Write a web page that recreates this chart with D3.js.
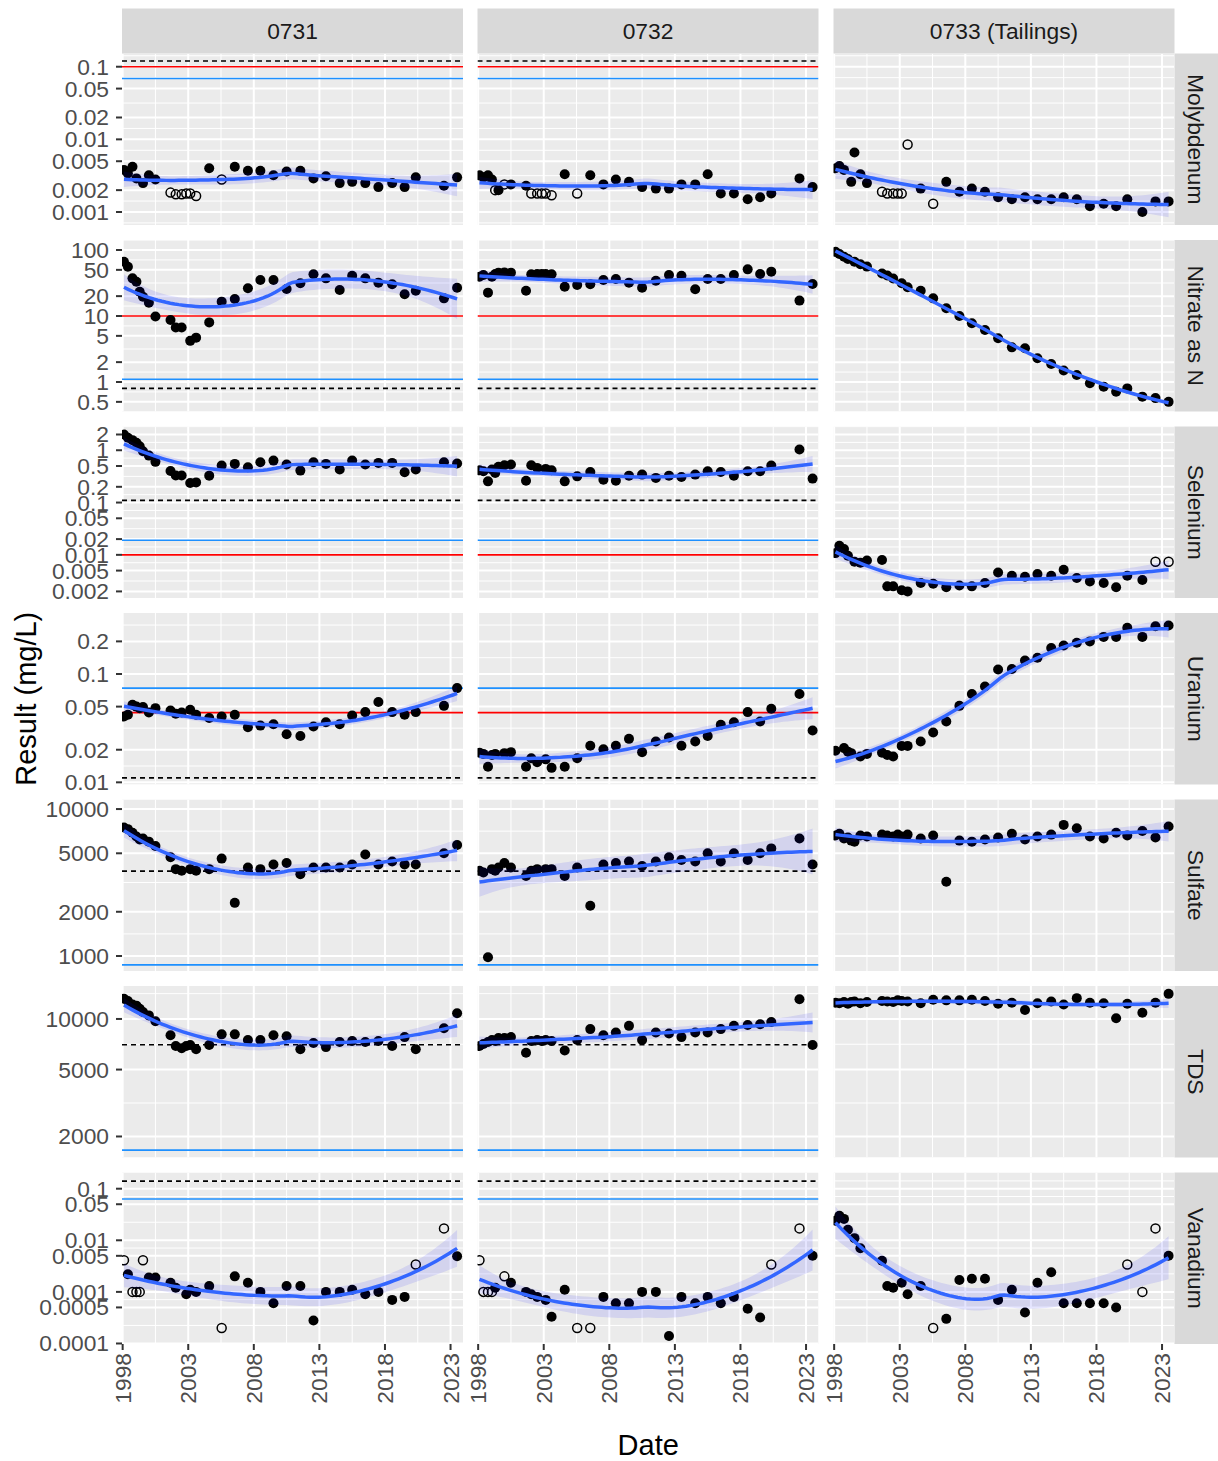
<!DOCTYPE html>
<html>
<head>
<meta charset="utf-8">
<title>Results by site and analyte</title>
<script src="https://cdn.jsdelivr.net/npm/d3@7"></script>
<style>
  body { margin: 0; background: #fff; }
  svg text { font-family: "Liberation Sans", Arial, Helvetica, sans-serif; }
</style>
</head>
<body>
<script>
// ---- data ---------------------------------------------------------------
var sites = ["0731", "0732", "0733 (Tailings)"];
var analytes = ["Molybdenum", "Nitrate as N", "Selenium", "Uranium", "Sulfate", "TDS", "Vanadium"];

// sampling events (decimal year); "<x" = not detected at x
var sampleYears = [1998.1, 1998.4, 1998.75, 1999.05, 1999.3, 1999.55, 2000.0, 2000.5, 2001.65, 2002.05,
  2002.5, 2002.85, 2003.15, 2003.6, 2004.6, 2005.55, 2006.55, 2007.55, 2008.5, 2009.5, 2010.5, 2011.55,
  2012.55, 2013.5, 2014.55, 2015.5, 2016.5, 2017.5, 2018.55, 2019.5, 2020.35, 2021.5, 2022.5, 2023.5];

var mo0731 = [0.0038, 0.0034, 0.0042, 0.0029, null, 0.0025, 0.0032, 0.0028, "<0.00185", "<0.00175", "<0.00175", "<0.0018", "<0.0018", "<0.00166", 0.0040, "<0.0028", 0.0042, 0.0037, 0.0037, 0.0032, 0.0036, 0.0037, 0.0029, 0.0031, 0.0025, 0.0026, 0.0025, 0.0022, 0.0025, 0.0022, 0.0030, null, 0.0023, 0.0030];
var mo0732 = [0.0032, 0.0030, 0.0032, 0.0028, "<0.002", 0.0020, "<0.0024", 0.0024, 0.0023, "<0.0018", "<0.0018", "<0.0018", "<0.0018", "<0.0017", 0.0033, "<0.0018", 0.0032, 0.0024, 0.0028, 0.0026, 0.0022, 0.0021, 0.0021, 0.0024, 0.0024, 0.0033, 0.0018, 0.0018, 0.0015, 0.0016, 0.0018, null, 0.0029, 0.0022];
var mo0733 = [0.0040, 0.0043, 0.0038, null, 0.0026, 0.0066, 0.0033, 0.0025, "<0.0019", "<0.0018", "<0.0018", "<0.0018", "<0.0018", "<0.0085", 0.0021, "<0.0013", 0.0026, 0.0019, 0.0021, 0.0019, 0.0016, 0.0015, 0.0016, 0.0015, 0.0015, 0.0016, 0.0015, 0.0012, 0.0013, 0.0012, 0.0015, 0.0010, 0.0014, 0.0014];

var no0731 = [66.5, 55.8, 37.2, 33.1, 23.3, 19.6, 15.9, 9.8, 8.7, 6.7, 6.7, null, 4.2, 4.7, 8.0, 16.5, 18.1, 26.3, 35.1, 35.1, 25.6, 31.3, 42.8, 37.2, 24.8, 40.8, 37.2, 32, 30.2, 21.3, 24.2, null, 18.5, 26.8];
var no0732 = [39.4, 41.8, 22.6, 39.4, 43.3, 45.4, 45.8, 45.4, 24.2, 42.8, 43.3, 43.3, 43.3, 42.8, 27.8, 29.5, 30.2, 35.1, 36.4, 32, 26.8, 34.3, 41.8, 40.8, 25.4, 36.4, 36.4, 41.8, 50.9, 43.3, 47, null, 17.1, 30.5];
var no0733 = [94, 87, 79, 73, null, 66.5, 61, 56, 44, 41, 37, null, 31.3, 27.2, 24.2, 18.5, 13.1, 10, 7.75, 6.14, 4.59, 3.35, 3.24, 2.29, 1.87, 1.49, 1.28, 0.955, 0.85, 0.71, 0.80, 0.60, 0.57, 0.50];

var se0731 = [2.0, 1.73, 1.56, 1.39, 1.19, 0.96, 0.79, 0.60, 0.40, 0.33, 0.33, null, 0.237, 0.243, 0.327, 0.509, 0.548, 0.472, 0.589, 0.634, 0.532, 0.408, 0.589, 0.548, 0.427, 0.634, 0.532, 0.573, 0.573, 0.379, 0.427, null, 0.589, 0.556];
var se0732 = [0.414, 0.396, 0.254, 0.427, 0.369, 0.481, 0.516, 0.532, 0.262, 0.516, 0.46, null, 0.44, 0.414, 0.254, 0.317, 0.385, 0.274, 0.262, 0.327, 0.342, 0.296, 0.327, 0.309, 0.342, 0.396, 0.385, 0.327, 0.396, 0.396, 0.509, null, 1.03, 0.287];
var se0733 = [0.0108, 0.0149, 0.0129, 0.0096, null, 0.0074, 0.0071, 0.0078, 0.0080, 0.0025, 0.0025, null, 0.0021, 0.0020, 0.0029, 0.0028, 0.0024, 0.0026, 0.0025, 0.0029, 0.0046, 0.0040, 0.0038, 0.0043, 0.0040, 0.0052, 0.0036, 0.0031, 0.0029, 0.0024, 0.0040, 0.0033, "<0.0074", "<0.0074"];

var u0731 = [0.0405, 0.042, 0.052, 0.050, 0.0484, 0.0495, 0.0441, 0.0484, 0.046, 0.0429, 0.0441, null, 0.0467, 0.042, 0.0392, 0.0405, 0.042, 0.0323, 0.0334, 0.0344, 0.0278, 0.0268, 0.0327, 0.0359, 0.0344, 0.0414, 0.0445, 0.0551, 0.0445, 0.042, 0.0445, null, 0.0508, 0.0741];
var u0732 = [0.0188, 0.0183, 0.0139, 0.0179, 0.0183, null, 0.0186, 0.019, 0.0139, 0.0167, 0.0153, null, 0.0163, 0.0136, 0.0139, 0.0167, 0.0218, 0.0202, 0.0218, 0.0252, 0.019, 0.0238, 0.0259, 0.0218, 0.0238, 0.0268, 0.034, 0.0359, 0.0445, 0.0364, 0.0478, null, 0.0653, 0.0301];
var u0733 = [0.0196, null, 0.0207, 0.0192, 0.0186, null, 0.0173, 0.0183, 0.0188, 0.0179, 0.0173, null, 0.0217, 0.0217, 0.0238, 0.0288, 0.0364, 0.0508, 0.0653, 0.0767, 0.110, 0.111, 0.133, 0.141, 0.174, 0.183, 0.194, 0.200, 0.220, 0.220, 0.267, 0.220, 0.276, 0.280];

var so0731 = [7500, 7300, 6900, 6500, 6200, 6300, 6000, 5600, 4700, 3900, 3800, null, 3900, 3800, 3900, 4600, 2300, 4000, 3900, 4200, 4300, 3600, 4000, 4000, 4000, 4200, 4900, 4200, 4400, 4200, 4200, null, 5000, 5700];
var so0732 = [3800, 3700, 980, 3900, 3800, 4000, 4300, 4000, 3500, 3800, 3900, null, 3900, 3900, 3500, 4000, 2200, 4200, 4300, 4400, 4100, 4400, 4700, 4500, 4400, 5000, 4400, 5000, 4500, 5000, 5400, null, 6300, 4200];
var so0733 = [6600, 6800, 6300, 6400, 6100, 6000, 6600, 6500, 6700, 6600, 6500, 6700, 6500, 6700, 6300, 6600, 3200, 6100, 6000, 6200, 6400, 6800, 6200, 6500, 6700, 7800, 7400, 6500, 6300, 6900, 6600, 7100, 6400, 7600];

var td0731 = [13200, 12800, 12200, 12000, 11500, 11000, 10500, 9700, 8000, 6900, 6700, 6900, 7000, 6600, 7000, 8100, 8100, 7500, 7500, 8000, 7900, 6600, 7200, 6800, 7300, 7400, 7300, 7400, 6900, 7800, 6600, null, 8800, 10800];
var td0732 = [6900, 7100, 7300, 7500, 7400, 7700, 7700, 7800, 6300, 7400, 7500, 7400, 7500, 7400, 6500, 7500, 8700, 8000, 8300, 9100, 7500, 8300, 8200, 7800, 8300, 8300, 8700, 9100, 9200, 9300, 9600, null, 13100, 7000];
var td0733 = [12500, 12400, 12600, 12300, 12600, 12700, 12400, 12600, 12800, 12700, 12600, 12900, 12800, 12700, 12400, 13000, 12900, 12900, 13000, 12800, 12300, 12500, 11300, 12400, 12700, 12200, 13300, 12500, 12400, 10100, 12300, 10900, 12500, 14100];

var v0731 = ["<0.0041", 0.0022, "<0.001", "<0.001", "<0.001", "<0.0041", 0.0019, 0.0019, 0.0015, 0.0012, null, 0.0009, 0.0011, 0.0010, 0.0013, "<0.0002", 0.002, 0.0015, 0.001, 0.0006, 0.0013, 0.0013, 0.00028, 0.001, 0.001, 0.0011, 0.0009, 0.001, 0.0007, 0.0008, "<0.0034", null, "<0.017", 0.0049];
var v0732 = ["<0.0041", "<0.001", "<0.001", "<0.001", 0.0012, null, "<0.002", 0.0015, 0.0010, 0.0009, 0.0008, null, 0.0007, 0.00033, 0.0011, "<0.0002", "<0.0002", 0.0008, 0.0006, 0.0006, 0.0010, 0.0010, 0.00014, 0.0008, 0.0006, 0.0008, 0.0006, 0.0008, 0.00047, 0.00032, "<0.0034", null, "<0.017", 0.005];
var v0733 = [0.024, 0.030, 0.026, 0.016, null, 0.011, 0.007, null, 0.004, 0.0013, 0.0012, null, 0.0015, 0.0009, 0.0013, "<0.0002", 0.0003, 0.0017, 0.0018, 0.0018, 0.0007, 0.0011, 0.0004, 0.0015, 0.0024, 0.0006, 0.0006, 0.0006, 0.0006, 0.0005, "<0.0034", "<0.001", "<0.017", 0.005];

// reference levels per analyte (shown for 0731 and 0732 only)
var dashedLevel = [0.12, 0.8, 0.11, 0.011, 3780, 7030, 0.14];
var redLevel = [0.1, 10, 0.01, 0.044, null, null, null];
var blueLevel = [0.069, 1.1, 0.019, 0.074, 870, 1660, 0.063];

// y axis breaks and limits (log10) per analyte
var yTicks = [
  [0.001, 0.002, 0.005, 0.01, 0.02, 0.05, 0.1],
  [0.5, 1, 2, 5, 10, 20, 50, 100],
  [0.002, 0.005, 0.01, 0.02, 0.05, 0.1, 0.2, 0.5, 1, 2],
  [0.01, 0.02, 0.05, 0.1, 0.2],
  [1000, 2000, 5000, 10000],
  [2000, 5000, 10000],
  [0.0001, 0.0005, 0.001, 0.005, 0.01, 0.05, 0.1]
];
var yLogMin = [-3.179, -0.447, -2.825, -2.02, 2.898, 3.176, -4.01];
var yLogMax = [-0.818, 2.1515, 0.454, -0.437, 4.065, 4.196, -0.686];

var xTicks = [1998, 2003, 2008, 2013, 2018, 2023];

var results = [
  [mo0731, mo0732, mo0733],
  [no0731, no0732, no0733],
  [se0731, se0732, se0733],
  [u0731, u0732, u0733],
  [so0731, so0732, so0733],
  [td0731, td0732, td0733],
  [v0731, v0732, v0733]
];

// ---- layout ---------------------------------------------------------------
var width = 1218, height = 1461;
var panelLeft = [122, 477.5, 833.5], panelW = 341;
var firstTop = 53.5, panelH = 171.5, rowStep = 186.5;
var stripTop = 8.5, stripRight = 1174.5, stripW = 43.5;
var fontAxis = 22.8, fontTitle = 29;

var svg = d3.select("body").append("svg")
    .attr("width", width)
    .attr("height", height);

svg.append("rect").attr("width", width).attr("height", height).attr("fill", "#fff");

svg.append("defs").append("clipPath").attr("id", "panelClip")
  .append("rect").attr("width", panelW).attr("height", panelH);

var x = d3.scaleLinear().domain([1997.95, 2023.95]).range([0, panelW]);

// ---- loess (local quadratic, tricube weights) -------------------------------
function invert3(m) {
  var a = m[0][0], b = m[0][1], c = m[0][2],
      d = m[1][0], e = m[1][1], f = m[1][2],
      g = m[2][0], h = m[2][1], k = m[2][2];
  var A = e * k - f * h, B = -(d * k - f * g), C = d * h - e * g;
  var det = a * A + b * B + c * C;
  return [
    [A / det, -(b * k - c * h) / det, (b * f - c * e) / det],
    [B / det, (a * k - c * g) / det, -(a * f - c * d) / det],
    [C / det, -(a * h - b * g) / det, (a * e - b * d) / det]
  ];
}

function loess(xs, ys, span) {
  var n = xs.length, q = Math.min(n, Math.max(3, Math.floor(n * span)));
  function hatRow(x0) {
    var dist = xs.map(function(v) { return Math.abs(v - x0); });
    var h = dist.slice().sort(d3.ascending)[q - 1];
    if (span > 1) h *= span;
    h = Math.max(h, 1e-6) * 1.0001;
    var w = dist.map(function(di) { var u = di / h; return u < 1 ? Math.pow(1 - u * u * u, 3) : 0; });
    var s = [[0, 0, 0], [0, 0, 0], [0, 0, 0]];
    xs.forEach(function(xi, i) {
      var t = xi - x0, b = [1, t, t * t];
      for (var j = 0; j < 3; j++) for (var k = 0; k < 3; k++) s[j][k] += w[i] * b[j] * b[k];
    });
    var inv = invert3(s);
    return xs.map(function(xi, i) {
      var t = xi - x0;
      return w[i] * (inv[0][0] + inv[0][1] * t + inv[0][2] * t * t);
    });
  }
  var rss = 0, trL = 0, sumL2 = 0;
  xs.forEach(function(xi, i) {
    var l = hatRow(xi);
    var fit = d3.sum(l, function(li, j) { return li * ys[j]; });
    rss += (ys[i] - fit) * (ys[i] - fit);
    trL += l[i];
    sumL2 += d3.sum(l, function(li) { return li * li; });
  });
  var sigma = Math.sqrt(rss / (n - 2 * trL + sumL2));
  var lo = d3.min(xs), hi = d3.max(xs);
  return d3.range(80).map(function(i) {
    var x0 = lo + i * (hi - lo) / 79;
    var l = hatRow(x0);
    var fit = d3.sum(l, function(li, j) { return li * ys[j]; });
    var se = sigma * Math.sqrt(d3.sum(l, function(li) { return li * li; }));
    return { x: x0, y: fit, ymin: fit - 2.03 * se, ymax: fit + 2.03 * se };
  });
}

function parseResult(v, i) {
  if (v == null) return null;
  if (typeof v === "string") return { year: sampleYears[i], value: +v.slice(1), nd: true };
  return { year: sampleYears[i], value: v, nd: false };
}

// ---- panels ---------------------------------------------------------------
analytes.forEach(function(analyte, r) {
  var top = firstTop + r * rowStep;
  var y = d3.scaleLog()
      .domain([Math.pow(10, yLogMin[r]), Math.pow(10, yLogMax[r])])
      .range([panelH, 0]);

  // minor breaks halfway (in log space) between the major ones
  var logs = yTicks[r].map(Math.log10);
  var minorY = [];
  for (var i = 0; i < logs.length - 1; i++) minorY.push((logs[i] + logs[i + 1]) / 2);
  minorY.push(logs[0] - (logs[1] - logs[0]) / 2);
  minorY.push(logs[logs.length - 1] + (logs[logs.length - 1] - logs[logs.length - 2]) / 2);
  minorY = minorY.filter(function(l) { return l > yLogMin[r] && l < yLogMax[r]; });

  sites.forEach(function(site, c) {
    var g = svg.append("g").attr("transform", "translate(" + panelLeft[c] + "," + top + ")");
    var pg = g.append("g").attr("clip-path", "url(#panelClip)");

    pg.append("rect").attr("width", panelW).attr("height", panelH).attr("fill", "#EBEBEB");

    // grid
    pg.selectAll("line.minory").data(minorY).enter().append("line")
      .attr("x1", 0).attr("x2", panelW)
      .attr("y1", function(d) { return y(Math.pow(10, d)); })
      .attr("y2", function(d) { return y(Math.pow(10, d)); })
      .attr("stroke", "#fff").attr("stroke-width", 1);
    pg.selectAll("line.minorx").data(d3.range(2000.5, 2024, 5)).enter().append("line")
      .attr("y1", 0).attr("y2", panelH)
      .attr("x1", function(d) { return x(d); }).attr("x2", function(d) { return x(d); })
      .attr("stroke", "#fff").attr("stroke-width", 1);
    pg.selectAll("line.majory").data(yTicks[r]).enter().append("line")
      .attr("x1", 0).attr("x2", panelW)
      .attr("y1", function(d) { return y(d); }).attr("y2", function(d) { return y(d); })
      .attr("stroke", "#fff").attr("stroke-width", 2);
    pg.selectAll("line.majorx").data(xTicks).enter().append("line")
      .attr("y1", 0).attr("y2", panelH)
      .attr("x1", function(d) { return x(d); }).attr("x2", function(d) { return x(d); })
      .attr("stroke", "#fff").attr("stroke-width", 2);

    // reference levels
    if (c < 2) {
      [[dashedLevel[r], "#000", "5,4"], [redLevel[r], "#FF0000", null], [blueLevel[r], "#1E90FF", null]]
        .forEach(function(ref) {
          if (ref[0] == null) return;
          pg.append("line")
            .attr("x1", 0).attr("x2", panelW)
            .attr("y1", y(ref[0])).attr("y2", y(ref[0]))
            .attr("stroke", ref[1]).attr("stroke-width", 1.6)
            .attr("stroke-dasharray", ref[2]);
        });
    }

    var pts = results[r][c].map(parseResult).filter(function(d) { return d; });

    pg.selectAll("circle.pt").data(pts).enter().append("circle")
      .attr("cx", function(d) { return x(d.year); })
      .attr("cy", function(d) { return y(d.value); })
      .attr("r", function(d) { return d.nd ? 4.5 : 5; })
      .attr("fill", function(d) { return d.nd ? "none" : "#000"; })
      .attr("stroke", "#000")
      .attr("stroke-width", function(d) { return d.nd ? 1.5 : 0; });

    // smoother on log10 scale
    var sm = loess(pts.map(function(d) { return d.year; }),
                   pts.map(function(d) { return Math.log10(d.value); }), 1.0);

    pg.append("path").datum(sm)
      .attr("fill", "blue").attr("fill-opacity", 0.1)
      .attr("d", d3.area()
        .x(function(d) { return x(d.x); })
        .y0(function(d) { return y(Math.pow(10, d.ymin)); })
        .y1(function(d) { return y(Math.pow(10, d.ymax)); }));

    pg.append("path").datum(sm)
      .attr("fill", "none").attr("stroke", "#3366FF").attr("stroke-width", 3.5)
      .attr("d", d3.line()
        .x(function(d) { return x(d.x); })
        .y(function(d) { return y(Math.pow(10, d.y)); }));

    // y axis on first column
    if (c === 0) {
      var ya = g.append("g");
      ya.selectAll("line").data(yTicks[r]).enter().append("line")
        .attr("x1", -6).attr("x2", 0)
        .attr("y1", function(d) { return y(d); }).attr("y2", function(d) { return y(d); })
        .attr("stroke", "#333").attr("stroke-width", 2);
      ya.selectAll("text").data(yTicks[r]).enter().append("text")
        .attr("x", -13).attr("y", function(d) { return y(d); })
        .attr("dy", "0.35em").attr("text-anchor", "end")
        .attr("font-size", fontAxis).attr("fill", "#4D4D4D")
        .text(function(d) { return String(d); });
    }

    // x axis on the bottom row
    if (r === analytes.length - 1) {
      var xa = g.append("g").attr("transform", "translate(0," + panelH + ")");
      xa.selectAll("line").data(xTicks).enter().append("line")
        .attr("x1", function(d) { return x(d); }).attr("x2", function(d) { return x(d); })
        .attr("y1", 0).attr("y2", 6)
        .attr("stroke", "#333").attr("stroke-width", 2);
      xa.selectAll("text").data(xTicks).enter().append("text")
        .attr("transform", function(d) { return "translate(" + x(d) + ",9) rotate(-90)"; })
        .attr("dy", "0.35em").attr("text-anchor", "end")
        .attr("font-size", fontAxis).attr("fill", "#4D4D4D")
        .text(function(d) { return d; });
    }

    // top strips
    if (r === 0) {
      svg.append("rect")
        .attr("x", panelLeft[c]).attr("y", stripTop)
        .attr("width", panelW).attr("height", firstTop - stripTop)
        .attr("fill", "#D9D9D9");
      svg.append("text")
        .attr("x", panelLeft[c] + panelW / 2).attr("y", (stripTop + firstTop) / 2)
        .attr("dy", "0.35em").attr("text-anchor", "middle")
        .attr("font-size", fontAxis).attr("fill", "#1A1A1A")
        .text(site);
    }
  });

  // right strip
  svg.append("rect")
    .attr("x", stripRight).attr("y", top)
    .attr("width", stripW).attr("height", panelH)
    .attr("fill", "#D9D9D9");
  svg.append("text")
    .attr("transform", "translate(" + (stripRight + stripW / 2) + "," + (top + panelH / 2) + ") rotate(90)")
    .attr("dy", "0.35em").attr("text-anchor", "middle")
    .attr("font-size", fontAxis).attr("fill", "#1A1A1A")
    .text(analyte);
});

// axis titles
var plotBottom = firstTop + (analytes.length - 1) * rowStep + panelH;
svg.append("text")
  .attr("x", (panelLeft[0] + panelLeft[2] + panelW) / 2).attr("y", 1455)
  .attr("text-anchor", "middle").attr("font-size", fontTitle).attr("fill", "#000")
  .text("Date");
svg.append("text")
  .attr("transform", "translate(36," + (firstTop + plotBottom) / 2 + ") rotate(-90)")
  .attr("text-anchor", "middle").attr("font-size", fontTitle).attr("fill", "#000")
  .text("Result (mg/L)");
</script>
</body>
</html>
